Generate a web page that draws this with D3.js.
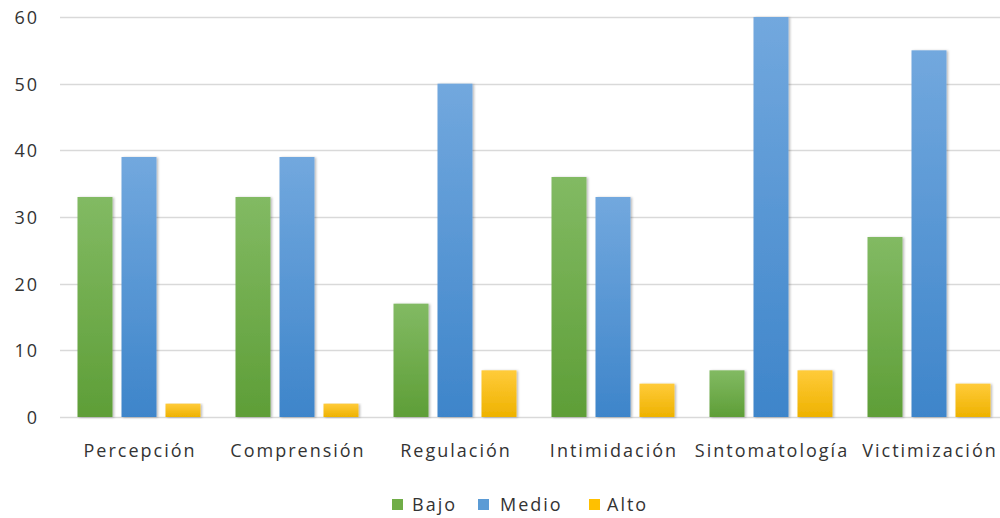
<!DOCTYPE html>
<html>
<head>
<meta charset="utf-8">
<script src="https://cdn.jsdelivr.net/npm/d3@7"></script>
<style>
  html, body { margin: 0; padding: 0; background: #fff; }
  svg { display: block; }
  text { font-family: "Open Sans", "Noto Sans", sans-serif; fill: #333; letter-spacing: 2px; }
</style>
</head>
<body>
<svg id="chart" width="1000" height="518"></svg>
<script>
// Dimensions of emotional intelligence / bullying, by level
const categories = ["Percepción", "Comprensión", "Regulación", "Intimidación", "Sintomatología", "Victimización"];
const seriesNames = ["Bajo", "Medio", "Alto"];
const bajo  = [33, 33, 17, 36, 7, 27];
const medio = [39, 39, 50, 33, 60, 55];
const alto  = [2, 2, 7, 5, 7, 5];
const yTicks = [0, 10, 20, 30, 40, 50, 60];

const seriesValues = [bajo, medio, alto];
const colors = {
  Bajo:  ["#82BA63", "#5E9E37"],
  Medio: ["#72A8DE", "#3E85CA"],
  Alto:  ["#FFCB3A", "#EEB200"]
};
const legendColors = { Bajo: "#70AD47", Medio: "#5B9BD5", Alto: "#FFC000" };

const svg = d3.select("#chart");
// plot area runs slightly past the right edge of the canvas
const margin = { left: 60, right: 1008, top: 17, bottom: 417 };

const x0 = d3.scaleBand().domain(categories).range([margin.left, margin.right]).paddingInner(0).paddingOuter(0);
const x1 = d3.scaleBand().domain(seriesNames).range([0, x0.bandwidth()]).paddingInner(0.205).paddingOuter(0.398);
const y = d3.scaleLinear().domain([0, 60]).range([margin.bottom, margin.top]);

// Gradients and shadow
const defs = svg.append("defs");
seriesNames.forEach(name => {
  const g = defs.append("linearGradient").attr("id", "grad-" + name)
    .attr("x1", 0).attr("y1", 0).attr("x2", 0).attr("y2", 1);
  g.append("stop").attr("offset", "0%").attr("stop-color", colors[name][0]);
  g.append("stop").attr("offset", "100%").attr("stop-color", colors[name][1]);
});
const shadow = defs.append("filter").attr("id", "shadow")
  .attr("x", "-20%").attr("y", "-5%").attr("width", "150%").attr("height", "115%");
shadow.append("feDropShadow").attr("dx", 1.5).attr("dy", 0.5).attr("stdDeviation", 1.2)
  .attr("flood-color", "#000").attr("flood-opacity", 0.28);

// Gridlines
svg.append("g").selectAll("line").data(yTicks).join("line")
  .attr("x1", margin.left).attr("x2", 1000)
  .attr("y1", d => Math.round(y(d)) + 0.5).attr("y2", d => Math.round(y(d)) + 0.5)
  .attr("stroke", "#D9D9D9").attr("stroke-width", 1.3);

// Y axis labels
const yAxis = d3.axisLeft(y).tickValues(yTicks).tickSize(0).tickPadding(0);
const yg = svg.append("g").attr("transform", "translate(39,0)").call(yAxis);
yg.select(".domain").remove();
yg.selectAll("text").style("font-size", "18px").attr("fill", "#333").attr("dy", "0.36em");

// Bars
const groups = svg.append("g").selectAll("g").data(categories).join("g")
  .attr("transform", d => `translate(${x0(d)},0)`);
groups.selectAll("rect")
  .data((c, i) => seriesNames.map((s, j) => ({ series: s, value: seriesValues[j][i] })))
  .join("rect")
  .attr("x", d => x1(d.series))
  .attr("width", x1.bandwidth())
  .attr("y", d => y(d.value))
  .attr("height", d => y(0) - y(d.value))
  .attr("fill", d => `url(#grad-${d.series})`)
  .attr("filter", "url(#shadow)");

// X axis labels
const xAxis = d3.axisBottom(x0).tickSize(0).tickPadding(0);
const xg = svg.append("g").attr("transform", "translate(1,451)").call(xAxis);
xg.select(".domain").remove();
xg.selectAll("text").style("font-size", "18px").attr("fill", "#333").attr("dy", "0.36em");

// Legend
const legendItems = [
  { name: "Bajo", sx: 392, tx: 412 },
  { name: "Medio", sx: 478, tx: 500 },
  { name: "Alto", sx: 589, tx: 607 }
];
const lg = svg.append("g");
lg.selectAll("rect").data(legendItems).join("rect")
  .attr("x", d => d.sx).attr("y", 499).attr("width", 11).attr("height", 11)
  .attr("fill", d => legendColors[d.name]);
lg.selectAll("text").data(legendItems).join("text")
  .attr("x", d => d.tx).attr("y", 505).attr("dy", "0.36em")
  .style("font-size", "18px").text(d => d.name);
</script>
</body>
</html>
